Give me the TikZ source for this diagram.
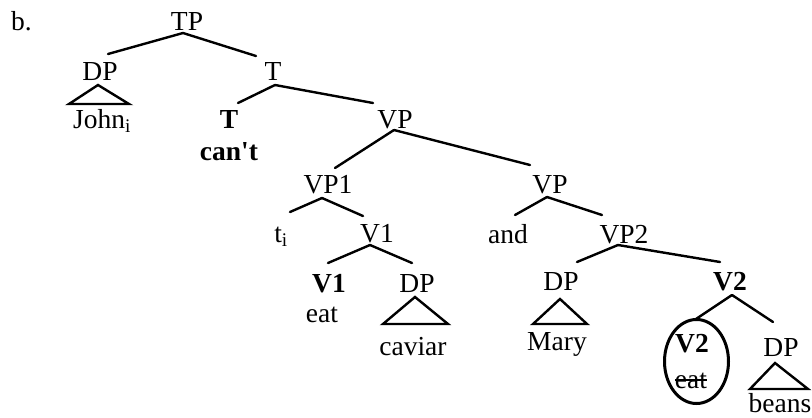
\documentclass[tikz,border=0pt]{standalone}
\usepackage{fontspec}
\setmainfont{Liberation Serif}
\usetikzlibrary{calc,shapes.geometric}
\newsavebox\strkbox
\newcommand{\strk}[1]{\sbox\strkbox{#1}\rlap{\rule[0.26em]{\wd\strkbox}{0.06em}}\usebox\strkbox}
\begin{document}
\begin{tikzpicture}[x=1pt,y=-1pt,
  every node/.style={font=\fontsize{27.5}{31}\selectfont, inner sep=0pt, anchor=base},
  bf/.style={font=\fontsize{27.5}{31}\selectfont\bfseries},
  branch/.style={line width=2.4pt, line cap=round, line join=miter}]
\useasboundingbox (0,0) rectangle (812,418);
% labels
\node[anchor=base west] (b) at (11,30) {b.};
\node (TP) at (187,30) {TP};
\node (DP1) at (100,80) {DP};
\node (john) at (102,128) {John\textsubscript{i}};
\node (T) at (273,80) {T};
\node[bf] (Tb) at (229,128) {T};
\node[bf] (cant) at (229,160) {can\textquotesingle t};
\node (VP) at (395,128) {VP};
\node (VP1) at (328,193) {VP1};
\node (ti) at (281,242) {t\textsubscript{i}};
\node (V1) at (377,242) {V1};
\node[bf] (V1b) at (329,292) {V1};
\node (eat1) at (322,322) {eat};
\node (DPc) at (417,292) {DP};
\node (caviar) at (413,355) {caviar};
\node (VPr) at (550,193) {VP};
\node (and) at (508,243) {and};
\node (VP2) at (624,243) {VP2};
\node (DPm) at (561,290) {DP};
\node (mary) at (557,350) {Mary};
\node[bf] (V2) at (730,290) {V2};
\node[draw, ellipse, line width=3pt, minimum width=64pt, minimum height=84pt, anchor=center] (circ) at (696.5,361.5) {};
\node[bf] (V2c) at (692,352) {V2};
\node (eatc) at (691,388) {\strk{eat}};
\node (DPb) at (781,356) {DP};
\node (beans) at (780,412) {beans};
% branches
\draw[branch] ($(TP.base)+(-4,3)$) -- ($(DP1.base)+(8,-26)$);
\draw[branch] ($(TP.base)+(-4,3)$) -- ($(T.base)+(-17,-24)$);
\draw[branch] ($(T.base)+(2,5)$) -- ($(Tb.base)+(9,-25)$);
\draw[branch] ($(T.base)+(2,5)$) -- ($(VP.base)+(-22,-25)$);
\draw[branch] ($(VP.base)+(-1,2)$) -- ($(VP1.base)+(7,-25)$);
\draw[branch] ($(VP.base)+(-1,2)$) -- ($(VPr.base)+(-20,-28)$);
\draw[branch] ($(VP1.base)+(-6,5)$) -- ($(ti.base)+(9,-30)$);
\draw[branch] ($(VP1.base)+(-6,5)$) -- ($(V1.base)+(-14,-26)$);
\draw[branch] ($(V1.base)+(-7,3)$) -- ($(V1b.base)+(-1,-29)$);
\draw[branch] ($(V1.base)+(-7,3)$) -- ($(DPc.base)+(-5,-29)$);
\draw[branch] ($(VPr.base)+(-3,4)$) -- ($(and.base)+(7,-28)$);
\draw[branch] ($(VPr.base)+(-3,4)$) -- ($(VP2.base)+(-22,-28)$);
\draw[branch] ($(VP2.base)+(-6,2)$) -- ($(DPm.base)+(16,-28)$);
\draw[branch] ($(VP2.base)+(-6,2)$) -- ($(V2.base)+(-10,-28)$);
\draw[branch] ($(V2.base)+(2,5)$) -- ($(circ.north)+(-2,2)$);
\draw[branch] ($(V2.base)+(2,5)$) -- ($(DPb.base)+(-8,-34)$);
% triangles
\draw[branch] ($(DP1.base)+(-31,24)$) -- ($(DP1.base)+(-2,5)$) -- ($(DP1.base)+(29,24)$) -- cycle;
\draw[branch] ($(DPc.base)+(-34,32)$) -- ($(DPc.base)+(-2,5)$) -- ($(DPc.base)+(31,32)$) -- cycle;
\draw[branch] ($(DPm.base)+(-28,34)$) -- ($(DPm.base)+(-1,9)$) -- ($(DPm.base)+(26,34)$) -- cycle;
\draw[branch] ($(DPb.base)+(-31,33)$) -- ($(DPb.base)+(-6,7)$) -- ($(DPb.base)+(27,33)$) -- cycle;
\end{tikzpicture}
\end{document}
